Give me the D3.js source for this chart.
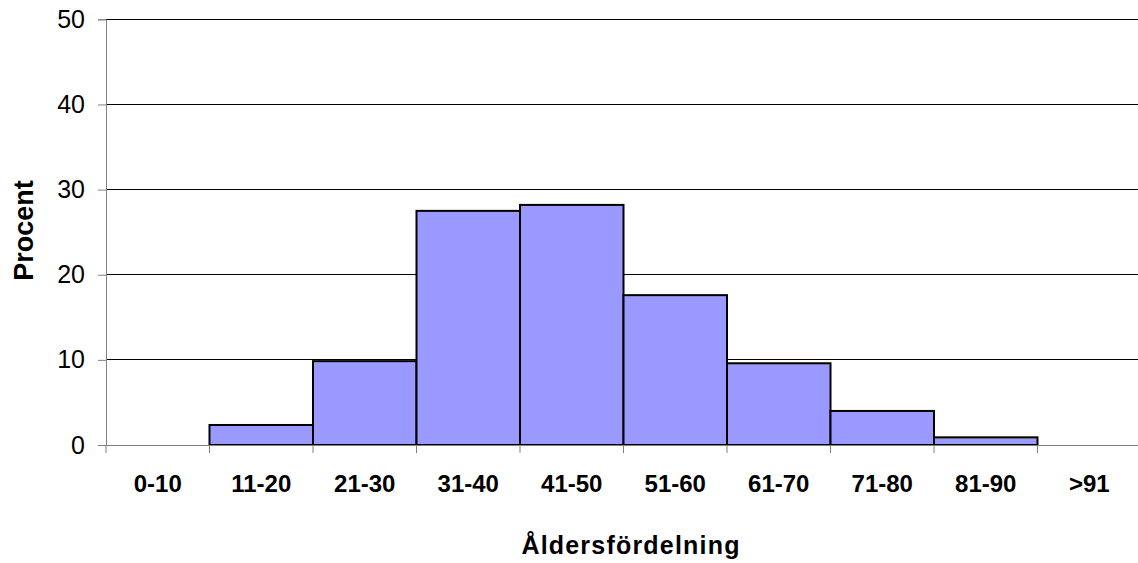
<!DOCTYPE html>
<html><head><meta charset="utf-8">
<script src="https://cdn.jsdelivr.net/npm/d3@7/dist/d3.min.js"></script>
<style>body{margin:0;background:#fff}svg{display:block}text{font-family:"Liberation Sans",Arial,sans-serif}</style>
</head><body>
<script>
const categories = ["0-10","11-20","21-30","31-40","41-50","51-60","61-70","71-80","81-90",">91"];
const values = [0, 2.35, 9.85, 27.5, 28.2, 17.6, 9.6, 4.0, 0.9, 0];
const yTicks = [0,10,20,30,40,50];
const yTitle = "Procent";
const xTitle = "Åldersfördelning";

const W = 1138, H = 563;
const svg = d3.select("body").append("svg").attr("width", W).attr("height", H);
const pL = 106, pR = 1141, pT = 19.3, pB = 445;

const x = d3.scaleBand().domain(categories).range([pL, pR]).padding(0);
const y = d3.scaleLinear().domain([0, 50]).range([pB, pT]);

// gridlines
svg.append("g").selectAll("line").data(yTicks.filter(d => d > 0)).join("line")
  .attr("x1", pL).attr("x2", pR)
  .attr("y1", d => y(d)).attr("y2", d => y(d))
  .attr("stroke", "#000").attr("stroke-width", 1).attr("shape-rendering","crispEdges");

// bars
svg.append("g").selectAll("rect").data(categories.map((c,i)=>({c, v: values[i]})).filter(d=>d.v>0)).join("rect")
  .attr("x", d => x(d.c)).attr("width", x.bandwidth())
  .attr("y", d => y(d.v)).attr("height", d => y(0) - y(d.v))
  .attr("fill", "#9999FF").attr("stroke", "#000").attr("stroke-width", 2);

// y axis
const yAxis = d3.axisLeft(y).tickValues(yTicks).tickSize(8).tickPadding(13);
const gy = svg.append("g").attr("transform", `translate(${pL},0)`).call(yAxis);
gy.select(".domain").attr("stroke", "#808080").attr("stroke-width", 1);
gy.selectAll(".tick line").attr("stroke", "#808080");
gy.selectAll("text").attr("font-size", 25).attr("fill", "#000");

// x axis
const xAxis = d3.axisBottom(x).tickSize(0).tickPadding(30);
const gx = svg.append("g").attr("transform", `translate(0,${pB})`).call(xAxis);
gx.select(".domain").attr("stroke", "#808080").attr("stroke-width", 1);
gx.selectAll("text").attr("font-size", 24).attr("font-weight", "bold").attr("fill", "#000");
// category boundary ticks
svg.append("g").selectAll("line").data(categories).join("line")
  .attr("x1", d => x(d)).attr("x2", d => x(d))
  .attr("y1", pB).attr("y2", pB + 8)
  .attr("stroke", "#808080").attr("stroke-width", 1);

svg.append("text").attr("x", 631).attr("y", 554)
  .attr("text-anchor", "middle").attr("font-size", 25).attr("letter-spacing", 1.2)
  .attr("font-weight", "bold").text(xTitle);
svg.append("text").attr("transform", `translate(33,230.5) rotate(-90)`)
  .attr("text-anchor", "middle").attr("font-size", 27).attr("font-weight", "bold").text(yTitle);
</script>
</body></html>
